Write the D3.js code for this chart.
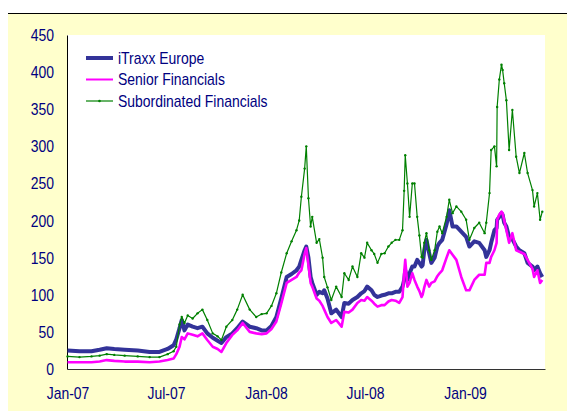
<!DOCTYPE html>
<html>
<head>
<meta charset="utf-8">
<script src="https://cdn.jsdelivr.net/npm/d3@7"></script>
<style>
  body { margin: 0; background: #fff; }
  svg text { font-family: "Liberation Sans", Arial, sans-serif; }
</style>
</head>
<body>
<svg id="chart" width="567" height="411"></svg>
<script>
// data (spread in bp)
var dates = ["2007-01-01","2007-01-23","2007-02-14","2007-03-01","2007-03-14","2007-03-28","2007-04-16","2007-05-10","2007-06-01","2007-06-19",
  "2007-07-04","2007-07-15","2007-07-20","2007-07-26","2007-07-30","2007-08-04","2007-08-10","2007-08-19","2007-08-28","2007-09-06",
  "2007-09-15","2007-09-25","2007-10-04","2007-10-11","2007-10-20","2007-10-31","2007-11-09","2007-11-19","2007-12-02","2007-12-14",
  "2007-12-24","2008-01-02","2008-01-11","2008-01-20","2008-01-29","2008-02-08","2008-02-17","2008-02-26","2008-03-02","2008-03-06",
  "2008-03-12","2008-03-15","2008-03-19","2008-03-23","2008-03-26","2008-04-03","2008-04-08","2008-04-14","2008-04-17","2008-04-23",
  "2008-04-30","2008-05-09","2008-05-19","2008-05-24","2008-06-01","2008-06-08","2008-06-17","2008-06-24","2008-06-30","2008-07-05",
  "2008-07-13","2008-07-18","2008-07-24","2008-07-31","2008-08-06","2008-08-13","2008-08-19","2008-08-26","2008-09-02","2008-09-08",
  "2008-09-11","2008-09-13","2008-09-17","2008-09-21","2008-09-26","2008-09-30","2008-10-05","2008-10-09","2008-10-13","2008-10-15",
  "2008-10-18","2008-10-22","2008-10-27","2008-10-31","2008-11-06","2008-11-11","2008-11-15","2008-11-20","2008-11-28","2008-12-03",
  "2008-12-09","2008-12-16","2008-12-25","2009-01-03","2009-01-09","2009-01-18","2009-01-27","2009-02-06","2009-02-09","2009-02-15",
  "2009-02-18","2009-02-24","2009-02-28","2009-03-01","2009-03-05","2009-03-09","2009-03-11","2009-03-14","2009-03-18","2009-03-23",
  "2009-03-29","2009-04-05","2009-04-11","2009-04-20","2009-04-26","2009-05-05","2009-05-08","2009-05-14","2009-05-19","2009-05-23"];

var itraxx = [25,24,24,26,28,27,26,25,23,23,
  27,32,40,55,66,52,60,57,55,57,
  48,42,38,35,43,48,55,64,57,55,
  52,52,58,70,95,124,128,133,138,147,
  160,165,150,124,116,100,104,102,106,95,
  75,80,70,89,88,93,97,102,105,111,
  106,100,97,99,100,102,102,104,104,111,
  120,133,120,129,138,138,147,143,138,140,
  160,174,156,143,150,165,170,174,195,214,
  192,192,185,178,165,172,170,160,151,160,
  170,187,190,201,205,210,208,197,192,178,
  175,165,160,156,143,138,133,138,129,124];

var senior = [9,9,9,10,12,11,10,10,9,10,
  12,14,20,30,43,40,48,46,44,48,
  39,30,27,23,35,46,52,62,50,48,
  47,48,54,64,88,116,120,124,130,133,
  155,163,140,116,111,95,92,85,80,70,
  62,66,57,77,76,80,89,93,92,97,
  92,88,84,86,86,91,93,92,89,97,
  130,147,111,116,129,120,111,105,97,100,
  110,120,111,116,118,125,129,133,150,160,
  154,147,124,106,106,120,127,127,143,143,
  151,160,170,201,208,212,210,200,187,170,
  183,160,158,155,147,135,124,133,116,120];

var subordinated = [17,16,17,18,20,19,18,17,16,16,
  20,24,30,60,70,62,72,68,75,80,
  66,48,44,39,57,66,80,100,80,70,
  74,75,85,102,130,156,172,187,200,232,
  270,300,230,192,205,170,175,150,124,110,
  93,111,97,129,120,138,124,156,150,170,
  160,155,143,155,156,165,170,174,174,187,
  240,288,250,205,250,250,205,180,151,150,
  170,183,160,147,160,185,192,183,205,228,
  210,219,212,201,174,190,197,183,197,237,
  295,300,273,353,390,410,403,385,362,295,
  349,286,264,291,264,241,219,237,201,212];

var seriesNames = ["iTraxx Europe", "Senior Financials", "Subordinated Financials"];
var yTicks = [0, 50, 100, 150, 200, 250, 300, 350, 400, 450];
var xTicks = ["2007-01-01", "2007-07-01", "2008-01-01", "2008-07-01", "2009-01-01"];

var parseTime = d3.timeParse("%Y-%m-%d");
var textColor = "#000080";

var svg = d3.select("#chart");

// narrow look of the original font
function squeeze(sel) {
  sel.each(function() {
    var w = this.getComputedTextLength();
    d3.select(this).attr("textLength", w * 0.82).attr("lengthAdjust", "spacingAndGlyphs");
  });
}

// frame: rule on top, pale yellow panel, white plot area
svg.append("line").attr("x1", 8).attr("x2", 567).attr("y1", 13.5).attr("y2", 13.5)
   .attr("stroke", "#000").attr("stroke-width", 1.2);
svg.append("rect").attr("x", 8).attr("y", 14).attr("width", 559).attr("height", 397).attr("fill", "#ffffcc");

var plotLeft = 67, plotRight = 545, plotTop = 35, plotBottom = 369;
svg.append("rect").attr("x", plotLeft).attr("y", plotTop).attr("width", plotRight - plotLeft)
   .attr("height", plotBottom - plotTop).attr("fill", "#fff");

var x = d3.scaleTime().domain([parseTime("2006-12-31"), parseTime("2009-05-28")]).range([plotLeft, plotRight]);
var y = d3.scaleLinear().domain([0, 450]).range([plotBottom, plotTop]);

//y axis
var yAxis = svg.append("g").attr("transform", "translate(" + plotLeft + ",0)")
   .call(d3.axisLeft(y).tickValues(yTicks).tickSize(0).tickPadding(13).tickSizeOuter(0));
yAxis.select(".domain").attr("stroke", "#000");
yAxis.selectAll("text").attr("fill", textColor).style("font-size", "17px").call(squeeze);

//x axis
var xAxis = svg.append("g").attr("transform", "translate(0," + plotBottom + ")")
   .call(d3.axisBottom(x).tickValues(xTicks.map(parseTime)).tickFormat(d3.timeFormat("%b-%y"))
   .tickSize(0).tickPadding(18).tickSizeOuter(0));
xAxis.select(".domain").attr("stroke", "#333");
xAxis.selectAll("text").attr("fill", textColor).style("font-size", "17px").call(squeeze);

var pts = dates.map(function(d, i) {
  return { date: parseTime(d), a: itraxx[i], b: senior[i], c: subordinated[i] };
});

var styles = [
  { key: "a", color: "#333399", width: 4 },
  { key: "b", color: "#ff00ff", width: 2.6 },
  { key: "c", color: "#008000", width: 1.2 }
];

styles.forEach(function(s) {
  var line = d3.line().x(function(d) { return x(d.date); }).y(function(d) { return y(d[s.key]); });
  svg.append("path").datum(pts)
     .attr("fill", "none").attr("stroke", s.color).attr("stroke-width", s.width)
     .attr("stroke-linejoin", "round").attr("d", line);
});

// small markers on the subordinated series
svg.append("g").selectAll("circle").data(pts).enter().append("circle")
   .attr("cx", function(d) { return x(d.date); })
   .attr("cy", function(d) { return y(d.c); })
   .attr("r", 1.2).attr("fill", "#008000");

// legend
var legend = svg.append("g");
seriesNames.forEach(function(name, i) {
  var ly = 58 + i * 21.5;
  var s = styles[i];
  legend.append("line").attr("x1", 86).attr("x2", 113).attr("y1", ly).attr("y2", ly)
        .attr("stroke", s.color).attr("stroke-width", i == 0 ? 4 : (i == 1 ? 2 : 1.2));
  if (i == 2) legend.append("circle").attr("cx", 99.5).attr("cy", ly).attr("r", 1.3).attr("fill", s.color);
  legend.append("text").attr("x", 118).attr("y", ly).attr("dy", "0.35em")
        .attr("fill", textColor).style("font-size", "17px").text(name).call(squeeze);
});
</script>
</body>
</html>
